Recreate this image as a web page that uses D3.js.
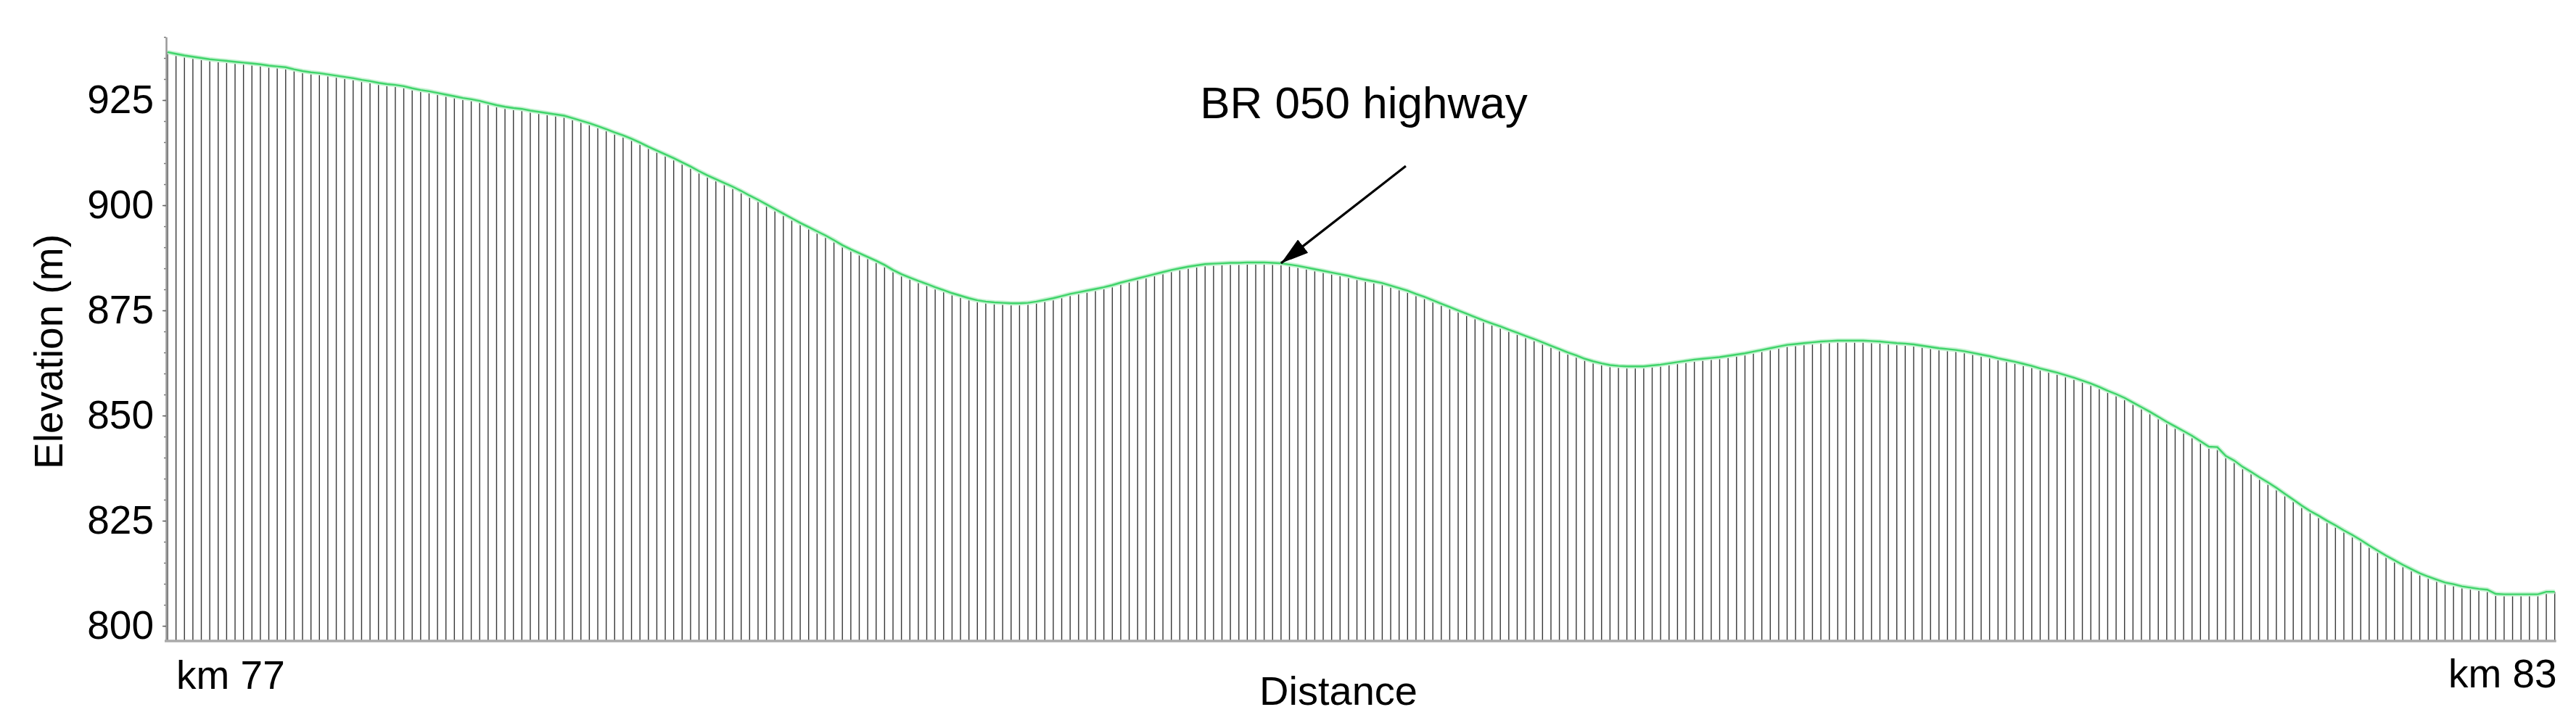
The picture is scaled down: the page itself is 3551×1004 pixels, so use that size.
<!DOCTYPE html>
<html>
<head>
<meta charset="utf-8">
<script src="https://cdn.jsdelivr.net/npm/d3@7"></script>
<style>
  body { margin: 0; background: #fff; }
  text { font-family: "Liberation Sans", Arial, sans-serif; fill: #000; }
</style>
</head>
<body>
<div id="vis"></div>
<script>
const W = 3551, H = 1004;

// elevation (m) at each sample point along the road, km 77 -> km 83
const elevation = [
  936.4, 936.0, 935.6, 935.3, 935.0, 934.7, 934.5, 934.3, 934.1, 933.9,
  933.7, 933.5, 933.2, 933.0, 932.8, 932.3, 931.9, 931.6, 931.4, 931.1,
  930.8, 930.5, 930.2, 929.8, 929.5, 929.1, 928.8, 928.6, 928.3, 927.8,
  927.4, 927.1, 926.7, 926.3, 925.9, 925.5, 925.2, 924.8, 924.3, 923.8,
  923.4, 923.1, 922.9, 922.5, 922.2, 921.9, 921.6, 921.3, 920.7, 920.1,
  919.5, 918.8, 918.1, 917.3, 916.6, 915.8, 914.9, 913.9, 913.0, 912.1,
  911.2, 910.2, 909.2, 908.1, 907.1, 906.2, 905.3, 904.4, 903.4, 902.3,
  901.3, 900.2, 899.1, 898.0, 896.9, 895.8, 894.8, 893.8, 892.8, 891.7,
  890.5, 889.5, 888.6, 887.7, 886.8, 885.8, 884.6, 883.6, 882.8, 882.0,
  881.3, 880.5, 879.8, 879.1, 878.5, 877.9, 877.4, 877.1, 876.9, 876.8,
  876.7, 876.7, 876.8, 877.1, 877.5, 877.9, 878.4, 878.9, 879.3, 879.7,
  880.1, 880.5, 881.0, 881.6, 882.1, 882.6, 883.1, 883.6, 884.1, 884.6,
  885.0, 885.4, 885.7, 886.0, 886.1, 886.2, 886.3, 886.3, 886.4, 886.4,
  886.4, 886.3, 886.2, 885.9, 885.6, 885.2, 884.8, 884.4, 884.0, 883.6,
  883.2, 882.7, 882.3, 881.9, 881.5, 880.9, 880.3, 879.7, 878.9, 878.2,
  877.4, 876.6, 875.8, 875.0, 874.2, 873.4, 872.6, 871.9, 871.2, 870.4,
  869.7, 868.9, 868.2, 867.4, 866.6, 865.8, 865.0, 864.3, 863.5, 862.9,
  862.4, 862.0, 861.8, 861.7, 861.7, 861.7, 861.9, 862.1, 862.4, 862.7,
  863.0, 863.3, 863.5, 863.7, 863.9, 864.2, 864.5, 864.8, 865.2, 865.6,
  866.0, 866.4, 866.8, 867.0, 867.2, 867.4, 867.6, 867.7, 867.8, 867.8,
  867.8, 867.8, 867.7, 867.6, 867.4, 867.2, 867.1, 866.9, 866.6, 866.3,
  866.0, 865.8, 865.6, 865.3, 864.9, 864.5, 864.1, 863.6, 863.2, 862.8,
  862.3, 861.8, 861.2, 860.7, 860.2, 859.6, 859.0, 858.3, 857.6, 856.8,
  855.9, 855.1, 854.2, 853.1, 852.0, 850.9, 849.7, 848.5, 847.4, 846.3,
  845.2, 843.9, 842.6, 842.5, 840.4, 839.3, 837.8, 836.6, 835.3, 834.1,
  832.8, 831.4, 830.0, 828.6, 827.3, 826.2, 825.0, 823.9, 822.7, 821.6,
  820.4, 819.1, 817.9, 816.7, 815.6, 814.5, 813.5, 812.5, 811.7, 811.0,
  810.3, 809.9, 809.4, 809.1, 808.8, 808.6, 807.6, 807.5, 807.5, 807.5,
  807.5, 807.5, 808.1, 808.1
];

const yTicks = [800, 825, 850, 875, 900, 925];
const yDomain = [796.4, 940];
const distanceLabels = ["km 77", "km 83"];
const highwayLabel = "BR 050 highway";
const highwayIndex = 132; // sample where the highway crosses

const x = d3.scaleLinear()
    .domain([0, elevation.length - 1])
    .range([231, 3521.7]);

const y = d3.scaleLinear()
    .domain(yDomain)
    .range([884, 51]);

const svg = d3.select('#vis')
    .append('svg')
    .attr('width', W)
    .attr('height', H);

// arrow head
svg.append('defs').append('marker')
    .attr('id', 'head')
    .attr('viewBox', '0 0 10 6')
    .attr('refX', 10)
    .attr('refY', 3)
    .attr('markerWidth', 12)
    .attr('markerHeight', 7.2)
    .attr('markerUnits', 'strokeWidth')
    .attr('orient', 'auto')
    .append('path')
    .attr('d', 'M0,0 L10,3 L0,6 Z')
    .attr('fill', '#000');

// vertical stems under the profile
svg.append('g')
    .selectAll('line')
    .data(elevation)
    .enter()
    .append('line')
    .attr('x1', (d, i) => x(i))
    .attr('x2', (d, i) => x(i))
    .attr('y1', d => y(d))
    .attr('y2', y(yDomain[0]))
    .attr('stroke', '#383838')
    .attr('stroke-width', 1.4);

// profile line (soft halo + core)
const line = d3.line()
    .x((d, i) => x(i))
    .y(d => y(d));

svg.append('path')
    .datum(elevation)
    .attr('d', line)
    .attr('fill', 'none')
    .attr('stroke', '#c4f2d0')
    .attr('stroke-width', 6);

svg.append('path')
    .datum(elevation)
    .attr('d', line)
    .attr('fill', 'none')
    .attr('stroke', '#3fd46a')
    .attr('stroke-width', 2.4);

// y axis: minor ticks every 5 m, major ticks labelled
const minor = svg.append('g')
    .attr('transform', 'translate(229,0)')
    .call(d3.axisLeft(y).tickValues(d3.range(800, 941, 5)).tickSize(3).tickFormat(''));
minor.select('.domain').remove();
minor.selectAll('line').attr('stroke', '#777').attr('stroke-width', 1.5);

const yAxis = svg.append('g')
    .attr('transform', 'translate(229,0)')
    .call(d3.axisLeft(y).tickValues(yTicks).tickSize(5).tickPadding(12).tickSizeOuter(0));
yAxis.select('.domain').attr('stroke', '#999').attr('stroke-width', 2.5);
yAxis.selectAll('line').attr('stroke', '#666').attr('stroke-width', 1.5);
yAxis.selectAll('text')
    .style('font-family', '"Liberation Sans", Arial, sans-serif')
    .style('font-size', '55px')
    .attr('fill', '#000');

// x baseline
svg.append('line')
    .attr('x1', 227)
    .attr('x2', x(elevation.length - 1) + 2)
    .attr('y1', y(yDomain[0]))
    .attr('y2', y(yDomain[0]))
    .attr('stroke', '#aaa')
    .attr('stroke-width', 3.5);

// end labels
svg.append('text')
    .attr('x', x(0) + 12)
    .attr('y', 950)
    .style('font-size', '55px')
    .text(distanceLabels[0]);

svg.append('text')
    .attr('x', x(elevation.length - 1) + 3)
    .attr('y', 948)
    .attr('text-anchor', 'end')
    .style('font-size', '55px')
    .text(distanceLabels[1]);

// axis titles
svg.append('text')
    .attr('x', 1845)
    .attr('y', 972)
    .attr('text-anchor', 'middle')
    .style('font-size', '56px')
    .text('Distance');

svg.append('text')
    .attr('transform', 'translate(86,485) rotate(-90)')
    .attr('text-anchor', 'middle')
    .style('font-size', '55px')
    .text('Elevation (m)');

// highway annotation
const tipX = x(highwayIndex), tipY = y(elevation[highwayIndex]);
svg.append('line')
    .attr('x1', tipX + 172)
    .attr('y1', tipY - 134)
    .attr('x2', tipX)
    .attr('y2', tipY)
    .attr('stroke', '#000')
    .attr('stroke-width', 3.2)
    .attr('marker-end', 'url(#head)');

svg.append('text')
    .attr('x', 1880)
    .attr('y', 163)
    .attr('text-anchor', 'middle')
    .style('font-size', '62px')
    .text(highwayLabel);
</script>
</body>
</html>
